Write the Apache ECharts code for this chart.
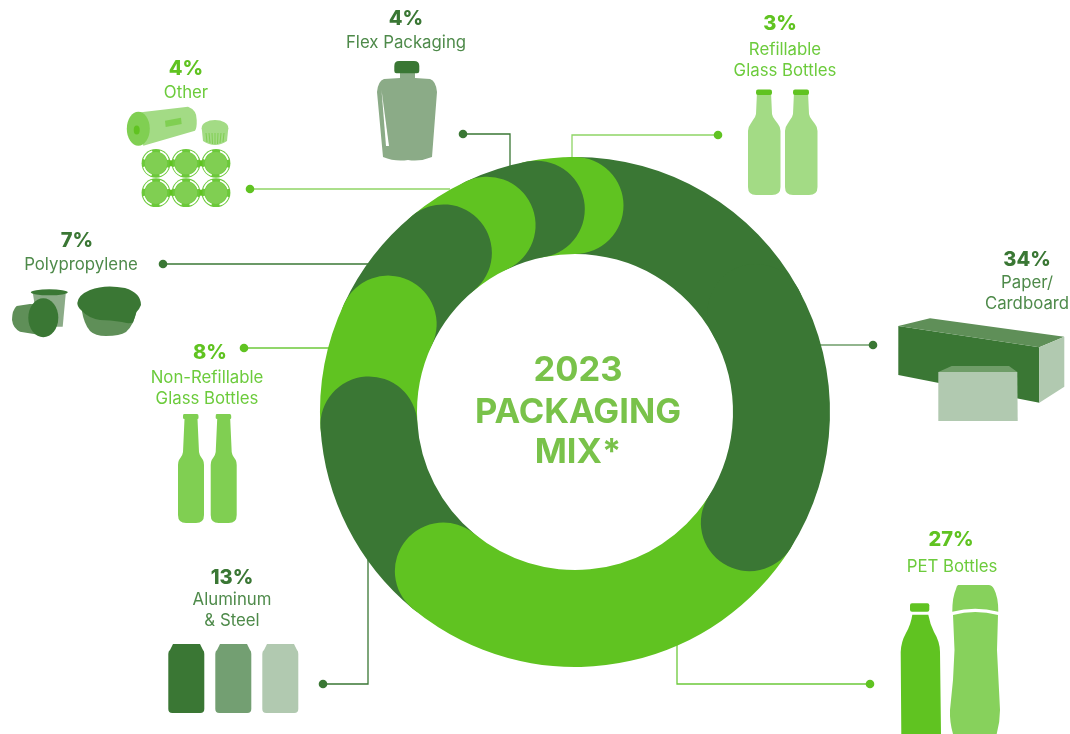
<!DOCTYPE html>
<html><head><meta charset="utf-8">
<style>html,body{margin:0;padding:0;background:#fff;overflow:hidden}#c{width:1070px;height:734px}</style>
<script src="https://cdn.jsdelivr.net/npm/echarts@6/dist/echarts.min.js"></script>
</head><body><div id="c"></div>
<script>
// ---- data, clockwise from 12 o'clock ----
var categories = ['Paper/\nCardboard','PET Bottles','Aluminum\n& Steel','Non-Refillable\nGlass Bottles','Polypropylene','Other','Flex Packaging','Refillable\nGlass Bottles'];
var shares = [34,27,13,8,7,4,4,3];
var tickLabels = shares.map(function(v){return v+'%';});
var title = ['2023','PACKAGING','MIX*'];

// ---- style ----
var DARK='#3A7734', GREEN='#60C321', LIGHT='#80CF52', PALE='#A3DB85', SAGE='#8BAB87', MOSS='#5F8F58', MIST='#B1C9B0', CANMID='#739F72';
var ringColors=[DARK,GREEN,DARK,GREEN,DARK,GREEN,DARK,GREEN];
var FONT='Inter';
// label layout: pct x,y ; name x,y ; name colour
var labelPos=[
 {px:1027,py:260,nx:1027,ny:283,dark:true},
 {px:951,py:540,nx:952,ny:567,dark:false},
 {px:232,py:578,nx:232,ny:600,dark:true},
 {px:210,py:353,nx:207,ny:378,dark:false},
 {px:77,py:241,nx:81,ny:265,dark:true},
 {px:186,py:69,nx:186,ny:93,dark:false},
 {px:406,py:19,nx:406,ny:43,dark:true},
 {px:780,py:24,nx:785,ny:50,dark:false}
];
// leader lines: polyline + dot is the first point
var leaders=[
 {p:[[873,345],[820,345]],c:DARK,l:'#6E9C69'},
 {p:[[870,684],[677,684],[677,645]],c:GREEN,l:'#6CC93A'},
 {p:[[323,684],[368,684],[368,560]],c:DARK},
 {p:[[244,348],[332,348]],c:GREEN,l:'#6CC93A'},
 {p:[[163,264],[372,264]],c:DARK},
 {p:[[250,189],[450,189]],c:GREEN,l:'#8FD565'},
 {p:[[463,134],[510,134],[510,168]],c:DARK},
 {p:[[718,135],[572,135],[572,160]],c:GREEN,l:'#8FD565'}
];

// ---- pictograms (decorative) ----
function circ(cx,cy,r){return 'M'+(cx-r)+' '+cy+'A'+r+' '+r+' 0 1 1 '+(cx+r)+' '+cy+'A'+r+' '+r+' 0 1 1 '+(cx-r)+' '+cy+'Z';}
function ell(cx,cy,rx,ry){return 'M'+(cx-rx)+' '+cy+'A'+rx+' '+ry+' 0 1 1 '+(cx+rx)+' '+cy+'A'+rx+' '+ry+' 0 1 1 '+(cx-rx)+' '+cy+'Z';}
var refill='M757 92L771 92L772 114Q772.5 117 775 120L778 124Q780.5 127 780.5 131L780.5 187Q780.5 195 772 195L756 195Q748 195 748 187L748 131Q748 127 750.5 124L753 120Q755.5 117 756 114Z';
var refillCap='M758 89.5L770 89.5Q772 89.5 772 91.5L772 93Q772 95 770 95L758 95Q756 95 756 93L756 91.5Q756 89.5 758 89.5Z';
var nonref='M184 414L197 414Q198.5 414 198.5 416L198.5 418Q198.5 419 197.5 419L199 452Q199.5 455 201 457L203 460Q204 462 204 465L204 515Q204 523 196 523L186 523Q178 523 178 515L178 465Q178 462 179 460L181 457Q182.5 455 183 452L184.5 419Q183 419 183 418L183 416Q183 414 184 414Z';
var can='M173 644L200 644L203 650Q204.3 651 204.3 654L204.3 709Q204.3 713 200.3 713L172.3 713Q168.3 713 168.3 709L168.3 654Q168.3 651 170 650Z';
var icons=[
 {d:refill,f:PALE},{d:refill,f:PALE,x:37},{d:refillCap,f:GREEN},{d:refillCap,f:GREEN,x:37},
 {d:nonref,f:LIGHT},{d:nonref,f:LIGHT,x:32.7},
 {d:can,f:DARK},{d:can,f:CANMID,x:47},{d:can,f:MIST,x:94},
 // pouch
 {d:'M400 72L415 72L415 80L400 80Z',f:SAGE},
 {d:'M399 61L414 61Q419.3 61 419.3 66L419.3 71Q419.3 73.3 417 73.3L396.5 73.3Q394.3 73.3 394.3 71L394.3 66Q394.3 61 399 61Z',f:DARK},
 {d:'M400 78L415 78L430 79Q436 81 437 92L432 157Q420 162 408 160Q395 162 383 157L377 92Q378 81 384 79Z',f:SAGE},
 {d:'M381.5 90L389 146L386 146Z',f:'#fff'},
 // roll
 {d:'M136.7 112.7L188 106.7Q197 110 196.7 120Q197 128 195 130.7L143.3 145.7Z',f:PALE},
 {d:ell(138.3,128.8,11.5,17),f:LIGHT},{d:ell(136.7,130,3,4.5),f:GREEN},
 {d:'M165 120.7L181 117.7L181.7 124L165.7 127Z',f:LIGHT},
 // cap
 {d:'M201.7 128L228.3 128L227 141Q215 149 203 141Z',f:PALE},
 {d:ell(215,128,13.3,8),f:PALE},
 {d:'M206 133L207 142M209 133L210 143M212 133L212.5 144M215 133L215 144M218 133L217.5 144M221 133L220 143M224 133L223 142',s:LIGHT,w:1},
 // PP cups
 {d:'M33 294L65.7 294L62.7 326.7L38 326.7Z',f:SAGE},
 {d:ell(49.3,292.3,18.5,3),f:DARK},
 {d:'M30 304L16.7 306Q12 310 12 320Q13 328 20 331.7L40 335L48 305Z',f:MOSS},
 {d:ell(43.3,317.7,15,19.5),f:DARK},
 {d:'M81.7 310L136.7 310Q134 325 126 332Q120 336 106 336Q95 336 90 331Q84 324 81.7 310Z',f:MOSS},
 {d:'M77.3 303Q78 295 90 290Q105 284 125 288Q141 293 141 305Q139 310 136.5 312L133 322.5Q128 324 122 322Q110 320 100 320Q88 318 81 310Q77.5 307 77.3 303Z',f:DARK},
 // paper box
 {d:'M898.3 326L1039.3 347.3L1039.3 402.7L898.3 375Z',f:DARK},
 {d:'M898.3 326L930 318.3L1064.3 336.7L1039.3 347.3Z',f:MOSS},
 {d:'M1039.3 347.3L1064.3 336.7L1064.3 386.7L1039.3 402.7Z',f:MIST},
 {d:'M938.3 372L951.7 366L1009 366L1017.3 372Z',f:'#6F9D68'},
 {d:'M938.3 372L1017.3 372L1017.7 421L938.3 421Z',f:MIST},
 // PET
 {d:'M912 603.3L927.3 603.3Q929.3 603.3 929.3 605.3L929.3 609.7Q929.3 611.7 927.3 611.7L912 611.7Q910 611.7 910 609.7L910 605.3Q910 603.3 912 603.3Z',f:GREEN},
 {d:'M912.3 614.7L928.3 614.7Q930 624 934 632Q940 642 940 652L941 734L901.3 734L900.7 652Q901 642 906 633Q911 624 912.3 614.7Z',f:GREEN},
 {d:'M958 585L988.5 585Q992 585 994 589Q998.3 597 998.3 611.7Q975 606 952.3 611.7Q952.3 597 956 589Q956.5 586 958 585Z',f:'#87D15C'},
 {d:'M953 615Q975 609 998 615L997 650L998.5 680L1000 710Q1000 722 996.7 734L953 734Q949.5 722 950 710L953 680L954.5 650Z',f:'#87D15C'}
];
// six-pack rings
[[156,163.3],[186,163.3],[216,163.3],[156,192.7],[186,192.7],[216,192.7]].forEach(function(c){
 icons.push({d:circ(c[0],c[1],14.4),f:'#6CC93A'});
 icons.push({d:circ(c[0],c[1],12.6),s:'#fff',w:1.7,dash:[11.8,8],off:5.9-9.9});
 icons.push({d:circ(c[0],c[1],11.2),f:LIGHT});
});
[[169.5,163.3],[199.5,163.3],[169.5,192.7],[199.5,192.7]].forEach(function(c){
 icons.push({d:'M'+(c[0])+' '+(c[1]-3)+'L'+(c[0]+3)+' '+(c[1]-3)+'L'+(c[0]+3)+' '+(c[1]+3)+'L'+c[0]+' '+(c[1]+3)+'Z',f:GREEN});
});

// ---- series: stacked polar bars with round caps. Each head overlaps the next
// segment clockwise; the cycle is broken by drawing Paper in two parts.
var zOf={1:9,2:8,3:7,4:6,5:5,6:4,7:3};
function bar(name,value,color,z){
 return {type:'bar',name:name,coordinateSystem:'polar',stack:'mix',roundCap:true,barWidth:'100%',
  data:[value],itemStyle:{color:color},z:z,silent:true,animation:false};
}
var series=[bar(categories[0],shares[0]/2,ringColors[0],1),bar(categories[0],shares[0]/2,ringColors[0],11)];
for(var i=1;i<shares.length;i++){series.push(bar(categories[i],shares[i],ringColors[i],zOf[i]+1));}
series.push({type:'custom',coordinateSystem:'none',silent:true,animation:false,z:1,
 data:icons.map(function(_,i){return i;}),
 renderItem:function(p,api){
  var ic=icons[api.value(0)];
  return {type:'path',x:ic.x||0,y:ic.y||0,shape:{pathData:ic.d},
   style:{fill:ic.f||'none',stroke:ic.s||null,lineWidth:ic.w||0,lineDash:ic.dash||null,lineDashOffset:ic.off||0}};
 }
});

// ---- texts & leaders ----
var g=[];
leaders.forEach(function(l){
 g.push({type:'polyline',z:1,shape:{points:l.p},style:{fill:null,stroke:l.l||l.c,lineWidth:1.3}});
 g.push({type:'circle',z:2,shape:{cx:l.p[0][0],cy:l.p[0][1],r:4.3},style:{fill:l.c}});
});
function txt(s,x,y,font,fill){g.push({type:'text',z:20,x:x,y:y,style:{text:s,font:font,fill:fill,align:'center',verticalAlign:'middle'}});}
categories.forEach(function(n,i){
 var lp=labelPos[i], dk=lp.dark;
 txt(tickLabels[i],lp.px,lp.py,'800 20px '+FONT,dk?DARK:GREEN);
 n.split('\n').forEach(function(line,k){
  txt(line,lp.nx,lp.ny+k*20.5,'400 16.8px '+FONT,dk?'#4E8A4A':'#6CCB3C');
 });
});
title.forEach(function(t,k){txt(t,578,[371,413,453][k],'700 34.5px '+FONT,'#79C24A');});

var chart=echarts.init(document.getElementById('c'),null,{renderer:'canvas'});
chart.setOption({
 backgroundColor:'#fff',animation:false,
 polar:{center:[575,412],radius:[158,255]},
 angleAxis:{type:'value',min:0,max:100,startAngle:90,show:false},
 radiusAxis:{type:'category',data:['2023'],show:false},
 series:series,
 graphic:{elements:g}
});
</script></body></html>
